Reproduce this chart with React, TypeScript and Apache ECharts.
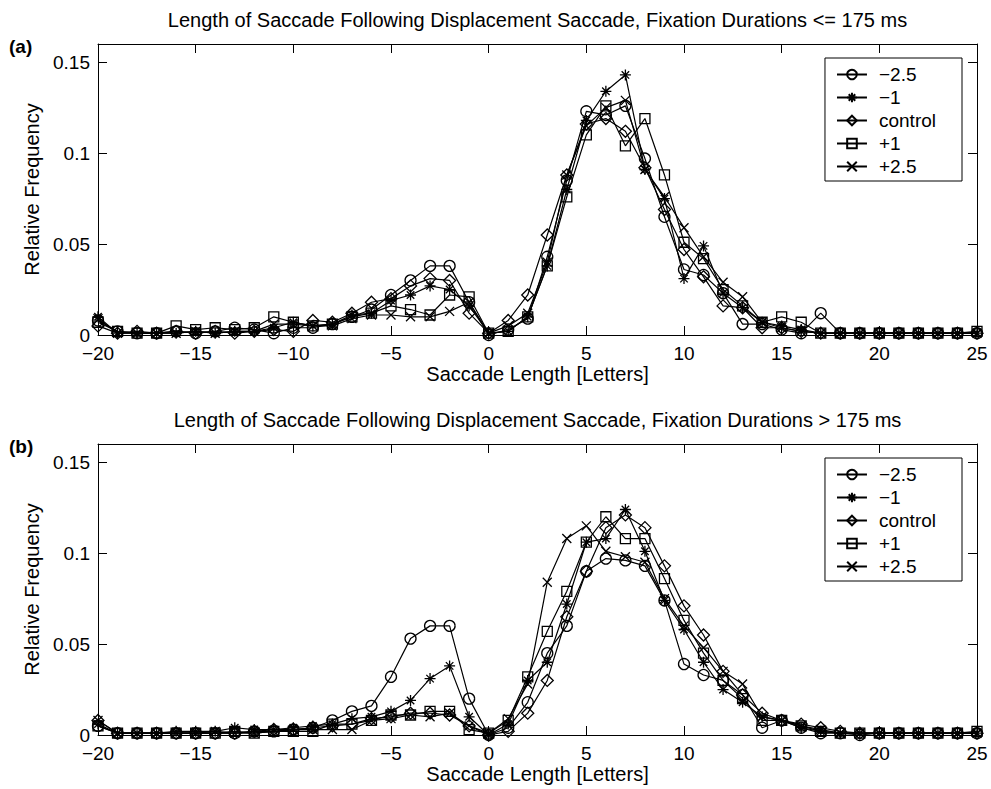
import React, { useEffect, useRef } from "react";
import * as echarts from "echarts";

// Saccade length in letters (x positions of every point)
const lengths = [
  -20, -19, -18, -17, -16, -15, -14, -13, -12, -11,
  -10, -9, -8, -7, -6, -5, -4, -3, -2, -1,
  0, 1, 2, 3, 4, 5, 6, 7, 8, 9,
  10, 11, 12, 13, 14, 15, 16, 17, 18, 19,
  20, 21, 22, 23, 24, 25,
];

const conditionNames = ["\u22122.5", "\u22121", "control", "+1", "+2.5"];
const xTicks = { min: -20, max: 25, step: 5 };
const yTicks = { min: 0, max: 0.16, step: 0.05 };

// Panel (a): fixation durations <= 175 ms
const shortNeg25 = [
  0.008, 0.002, 0.001, 0.001, 0.002, 0.001, 0.002, 0.004, 0.003, 0.001,
  0.004, 0.004, 0.006, 0.010, 0.014, 0.022, 0.030, 0.038, 0.038, 0.018,
  0.000, 0.003, 0.009, 0.043, 0.085, 0.123, 0.121, 0.126, 0.097, 0.065,
  0.036, 0.033, 0.023, 0.006, 0.006, 0.003, 0.001, 0.012, 0.001, 0.001,
  0.001, 0.001, 0.001, 0.001, 0.001, 0.001,
];
const shortNeg1 = [
  0.010, 0.001, 0.001, 0.001, 0.001, 0.002, 0.001, 0.002, 0.002, 0.004,
  0.007, 0.005, 0.006, 0.011, 0.012, 0.019, 0.022, 0.027, 0.025, 0.016,
  0.001, 0.002, 0.010, 0.038, 0.080, 0.118, 0.134, 0.143, 0.091, 0.075,
  0.031, 0.049, 0.023, 0.015, 0.007, 0.005, 0.003, 0.001, 0.001, 0.001,
  0.001, 0.001, 0.001, 0.001, 0.001, 0.001,
];
const shortControl = [
  0.005, 0.001, 0.002, 0.001, 0.002, 0.001, 0.002, 0.001, 0.002, 0.003,
  0.002, 0.008, 0.007, 0.012, 0.018, 0.020, 0.027, 0.031, 0.030, 0.012,
  0.001, 0.008, 0.022, 0.055, 0.088, 0.116, 0.119, 0.112, 0.092, 0.069,
  0.047, 0.032, 0.016, 0.015, 0.004, 0.004, 0.002, 0.001, 0.001, 0.001,
  0.001, 0.001, 0.001, 0.001, 0.001, 0.001,
];
const shortPos1 = [
  0.007, 0.002, 0.001, 0.001, 0.005, 0.003, 0.004, 0.003, 0.004, 0.010,
  0.007, 0.005, 0.006, 0.010, 0.012, 0.016, 0.014, 0.011, 0.022, 0.021,
  0.001, 0.002, 0.010, 0.038, 0.076, 0.110, 0.126, 0.104, 0.119, 0.088,
  0.051, 0.042, 0.025, 0.016, 0.007, 0.010, 0.007, 0.001, 0.001, 0.001,
  0.001, 0.001, 0.001, 0.001, 0.001, 0.002,
];
const shortPos25 = [
  0.009, 0.001, 0.001, 0.001, 0.001, 0.002, 0.001, 0.002, 0.002, 0.006,
  0.006, 0.005, 0.005, 0.009, 0.011, 0.011, 0.010, 0.010, 0.013, 0.018,
  0.001, 0.005, 0.012, 0.040, 0.088, 0.115, 0.125, 0.129, 0.091, 0.076,
  0.059, 0.043, 0.029, 0.021, 0.007, 0.004, 0.002, 0.001, 0.001, 0.001,
  0.001, 0.001, 0.001, 0.001, 0.001, 0.001,
];

// Panel (b): fixation durations > 175 ms
const longNeg25 = [
  0.005, 0.001, 0.001, 0.001, 0.001, 0.001, 0.001, 0.001, 0.002, 0.002,
  0.003, 0.004, 0.008, 0.013, 0.016, 0.032, 0.053, 0.060, 0.060, 0.020,
  0.000, 0.004, 0.018, 0.045, 0.060, 0.090, 0.097, 0.096, 0.093, 0.074,
  0.039, 0.033, 0.030, 0.022, 0.004, 0.008, 0.004, 0.001, 0.001, 0.000,
  0.001, 0.001, 0.001, 0.001, 0.001, 0.001,
];
const longNeg1 = [
  0.006, 0.001, 0.001, 0.001, 0.002, 0.002, 0.002, 0.004, 0.003, 0.003,
  0.004, 0.005, 0.006, 0.009, 0.010, 0.013, 0.019, 0.031, 0.038, 0.010,
  0.000, 0.006, 0.030, 0.040, 0.072, 0.106, 0.108, 0.124, 0.101, 0.074,
  0.058, 0.040, 0.025, 0.018, 0.010, 0.008, 0.004, 0.002, 0.001, 0.001,
  0.001, 0.001, 0.001, 0.001, 0.001, 0.001,
];
const longControl = [
  0.008, 0.001, 0.001, 0.001, 0.001, 0.001, 0.001, 0.001, 0.002, 0.003,
  0.003, 0.004, 0.005, 0.006, 0.009, 0.010, 0.012, 0.012, 0.011, 0.005,
  0.000, 0.002, 0.012, 0.030, 0.065, 0.090, 0.114, 0.121, 0.114, 0.093,
  0.071, 0.055, 0.035, 0.022, 0.012, 0.008, 0.006, 0.004, 0.002, 0.001,
  0.001, 0.001, 0.001, 0.001, 0.001, 0.001,
];
const longPos1 = [
  0.005, 0.001, 0.001, 0.001, 0.001, 0.001, 0.001, 0.002, 0.001, 0.002,
  0.002, 0.002, 0.006, 0.006, 0.008, 0.011, 0.011, 0.013, 0.013, 0.003,
  0.001, 0.008, 0.032, 0.057, 0.079, 0.106, 0.120, 0.108, 0.108, 0.086,
  0.063, 0.045, 0.030, 0.020, 0.008, 0.008, 0.005, 0.002, 0.001, 0.001,
  0.001, 0.001, 0.001, 0.001, 0.001, 0.002,
];
const longPos25 = [
  0.008, 0.001, 0.001, 0.001, 0.001, 0.001, 0.002, 0.001, 0.001, 0.002,
  0.003, 0.003, 0.003, 0.003, 0.008, 0.009, 0.011, 0.010, 0.012, 0.005,
  0.001, 0.009, 0.028, 0.084, 0.108, 0.115, 0.101, 0.098, 0.095, 0.075,
  0.060, 0.048, 0.035, 0.028, 0.010, 0.008, 0.005, 0.003, 0.001, 0.001,
  0.001, 0.001, 0.001, 0.001, 0.001, 0.001,
];

const panelTitles = [
  "Length of Saccade Following Displacement Saccade, Fixation Durations <= 175 ms",
  "Length of Saccade Following Displacement Saccade, Fixation Durations > 175 ms",
];
const panelTags = ["(a)", "(b)"];
const xAxisName = "Saccade Length [Letters]";
const yAxisName = "Relative Frequency";

const FONT = "'Liberation Sans', Arial, Helvetica, sans-serif";
const FS = 19;
const FS_TITLE = 20;

// MATLAB-style marker shapes (outline only)
const markers = [
  "circle",
  "path://M5 0L5 10M0 5L10 5M1.6 1.6L8.4 8.4M1.6 8.4L8.4 1.6",
  "diamond",
  "rect",
  "path://M0 0L10 10M0 10L10 0",
];
const markerSizes = [11, 11, 12, 10, 9];

const minus = (s: string) => s.replace("-", "\u2212");

export default function App() {
  const ref = useRef<HTMLDivElement>(null);

  useEffect(() => {
    if (!ref.current) return;
    const chart = echarts.init(ref.current, null, { renderer: "svg" });

    const panels = [
      [shortNeg25, shortNeg1, shortControl, shortPos1, shortPos25],
      [longNeg25, longNeg1, longControl, longPos1, longPos25],
    ];
    const gridTops = [44, 444];
    const plotH = 291;
    const plotLeft = 98;
    const plotRight = 14;

    const axisLine = { show: true, onZero: false, lineStyle: { color: "#000", width: 1 } };
    const tick = { show: true, inside: true, length: 9, lineStyle: { color: "#000", width: 1 } };
    const labelStyle = { color: "#000", fontFamily: FONT, fontSize: FS };

    const xAxes: any[] = [];
    const yAxes: any[] = [];
    panels.forEach((_, p) => {
      xAxes.push({
        type: "value", gridIndex: p, position: "bottom",
        min: xTicks.min, max: xTicks.max, interval: xTicks.step,
        axisLine, axisTick: tick, splitLine: { show: false },
        axisLabel: { ...labelStyle, margin: 9, formatter: (v: number) => minus(String(v)) },
        name: xAxisName, nameLocation: "middle", nameGap: 25,
        nameTextStyle: { ...labelStyle, fontSize: FS_TITLE },
      });
      xAxes.push({
        type: "value", gridIndex: p, position: "top",
        min: xTicks.min, max: xTicks.max, interval: xTicks.step,
        axisLine, axisTick: tick, splitLine: { show: false }, axisLabel: { show: false },
      });
      yAxes.push({
        type: "value", gridIndex: p, position: "left",
        min: yTicks.min, max: yTicks.max, interval: yTicks.step,
        axisLine, axisTick: tick, splitLine: { show: false },
        axisLabel: { ...labelStyle, margin: 8, showMaxLabel: false },
        name: yAxisName, nameLocation: "middle", nameGap: 46,
        nameTextStyle: { ...labelStyle, fontSize: FS_TITLE },
      });
      yAxes.push({
        type: "value", gridIndex: p, position: "right",
        min: yTicks.min, max: yTicks.max, interval: yTicks.step,
        axisLine, axisTick: tick, splitLine: { show: false }, axisLabel: { show: false },
      });
    });

    const series: any[] = [];
    panels.forEach((values, p) => {
      values.forEach((vals, i) => {
        series.push({
          type: "line",
          name: conditionNames[i],
          xAxisIndex: p * 2,
          yAxisIndex: p * 2,
          data: lengths.map((x, k) => [x, vals[k]]),
          symbol: markers[i],
          symbolSize: markerSizes[i],
          showAllSymbol: true,
          lineStyle: { color: "#000", width: 1.2 },
          itemStyle: { color: "rgba(0,0,0,0)", borderColor: "#000", borderWidth: 1.3 },
          emphasis: { disabled: true },
          z: 2 + i,
        });
      });
    });

    chart.setOption({
      animation: false,
      backgroundColor: "#fff",
      title: panelTitles.map((t, p) => ({
        text: t,
        left: plotLeft + (991 - plotLeft - plotRight) / 2,
        textAlign: "center",
        top: gridTops[p] - 34,
        padding: 0,
        textStyle: { color: "#000", fontFamily: FONT, fontSize: FS_TITLE, fontWeight: "normal" },
      })),
      legend: gridTops.map((top) => ({
        orient: "vertical",
        right: 29,
        top: top + 14,
        data: conditionNames,
        backgroundColor: "#fff",
        borderColor: "#000",
        borderWidth: 1,
        padding: [7, 26, 5, 11],
        itemGap: 4,
        itemWidth: 30,
        itemHeight: 12,
        selectedMode: false,
        textStyle: { color: "#000", fontFamily: FONT, fontSize: FS, padding: [0, 0, 0, 7] },
      })),
      grid: gridTops.map((top) => ({
        left: plotLeft, right: plotRight, top, height: plotH, containLabel: false,
      })),
      xAxis: xAxes,
      yAxis: yAxes,
      series,
      graphic: panelTags.map((tag, p) => ({
        type: "text",
        left: 9,
        top: gridTops[p] - 7,
        style: { text: tag, fill: "#000", font: `bold ${FS}px ${FONT}` },
      })),
    });

    return () => chart.dispose();
  }, []);

  return (
    <div
      ref={ref}
      style={{ position: "absolute", left: 0, top: 0, width: 991, height: 789 }}
    />
  );
}
